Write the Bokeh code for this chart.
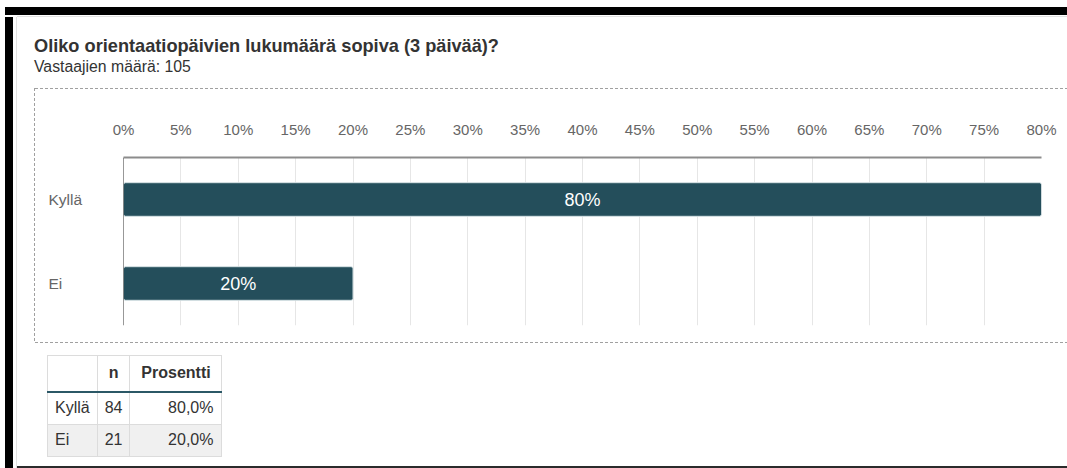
from bokeh.plotting import figure
from bokeh.models import (Div, Range1d, FactorRange, FixedTicker, ColumnDataSource,
                          Span)
from bokeh.layouts import row, column
from bokeh.embed import file_html
from bokeh.resources import INLINE
from bokeh.core.properties import value

# ---------------- data ----------------
title_text = "Oliko orientaatiopäivien lukumäärä sopiva (3 päivää)?"
subtitle_text = "Vastaajien määrä: 105"
categories = ["Kyllä", "Ei"]
percent = [80, 20]
counts = [84, 21]
tick_values = [0, 5, 10, 15, 20, 25, 30, 35, 40, 45, 50, 55, 60, 65, 70, 75, 80]
tick_labels = ["0%", "5%", "10%", "15%", "20%", "25%", "30%", "35%", "40%",
               "45%", "50%", "55%", "60%", "65%", "70%", "75%", "80%"]
table_header = ["", "n", "Prosentti"]

FONT = "Liberation Sans"
BAR = "#244e5b"

# ---------------- chart ----------------
src = ColumnDataSource(dict(
    cat=categories,
    pct=percent,
    mid=[v / 2 for v in percent],
    lbl=[f"{v}%" for v in percent],
))

y_range = FactorRange(factors=list(reversed(categories)))

# main plot
p = figure(width=956, height=253,
           x_range=Range1d(0, 80), y_range=y_range,
           x_axis_location="above",
           toolbar_location=None, output_backend="svg",
           min_border_left=12, min_border_right=26,
           min_border_top=68, min_border_bottom=17, margin=0)
p.outline_line_color = None
p.background_fill_color = "white"
p.border_fill_color = "white"

p.hbar(y="cat", left=0, right="pct", height=0.4, source=src,
       fill_color=BAR, line_color="#d5e1e4", line_width=1, border_radius=2)

p.text(x="mid", y="cat", text="lbl", source=src,
       text_color="white", text_font=value(FONT), text_font_size="18px",
       text_align="center", text_baseline="middle")

p.add_layout(Span(location=0, dimension="height", line_color="#333333",
                  line_width=1))

p.yaxis.visible = False
p.ygrid.grid_line_color = None
p.xgrid.grid_line_color = "#e6e6e6"
p.xgrid.grid_line_width = 1

xa = p.xaxis[0]
xa.ticker = FixedTicker(ticks=tick_values)
xa.major_label_overrides = dict(zip(tick_values, tick_labels))
xa.major_tick_line_color = None
xa.minor_tick_line_color = None
xa.axis_line_color = "#8c8c8c"
xa.axis_line_width = 2
xa.major_label_text_font = FONT
xa.major_label_text_font_size = "15px"
xa.major_label_text_color = "#666666"
xa.major_label_standoff = 14

# category label strip (shares the categorical y range, left-aligned labels)
lab = figure(width=76, height=253,
             x_range=Range1d(0, 76), y_range=y_range,
             x_axis_type=None, y_axis_type=None,
             toolbar_location=None, output_backend="svg",
             min_border_left=0, min_border_right=0,
             min_border_top=68, min_border_bottom=17, margin=0)
lab.outline_line_color = None
lab.grid.grid_line_color = None
lab.text(x=13, y="cat", text="cat", source=src,
         text_font=value(FONT), text_font_size="15.5px",
         text_color="#666666", text_align="left", text_baseline="middle")

# ---------------- frame pieces ----------------
def block(w, h, bg=None):
    st = {"background": bg} if bg else {}
    return Div(text="", width=w, height=h, margin=0, styles=st)

top_row = row(
    block(5, 17),
    block(12, 17, "linear-gradient(to bottom, #fff 0 7px, #000 7px 15px, #fff 15px 17px)"),
    block(1050, 17, "linear-gradient(to bottom, #fff 0 7px, #000 7px 15px, #fff 15px 16px, #e2e2e2 16px 17px)"),
    spacing=0)
left_band = block(17, 451, "linear-gradient(to right, #fff 0 5px, #000 5px 13px, #fff 13px 16px, #e2e2e2 16px 17px)")

title_html = (
    f'<div style="font-family:\'{FONT}\',Arial,sans-serif;color:#333;padding:19px 0 0 17px;">'
    f'<div style="font-weight:bold;font-size:18.2px;line-height:20px;white-space:nowrap;">{title_text}</div>'
    f'<div style="font-size:15.8px;line-height:20px;margin-top:1px;white-space:nowrap;">{subtitle_text}</div>'
    '</div>'
)
title_div = Div(text=title_html, width=1050, height=71, margin=0)

dash_h = "repeating-linear-gradient(to right, #a0a0a0 0 3px, transparent 3px 5px)"
dash_v = "repeating-linear-gradient(to bottom, #a0a0a0 0 3px, transparent 3px 5px)"
chart_block = row(
    block(17, 255),
    block(1, 255, dash_v),
    column(block(1032, 1, dash_h), row(lab, p, spacing=0), block(1032, 1, dash_h), spacing=0),
    spacing=0)

# ---------------- table ----------------
cell = "border:1px solid #dcdcdc;padding:0 7px;"
widths = ["49px", "31px", "92px"]
rows_html = ""
for i, (c, n, v) in enumerate(zip(categories, counts, percent)):
    bg = "#ffffff" if i % 2 == 0 else "#f0f0f0"
    h = 33 if i == 0 else 32
    pct_txt = f"{v:.1f}%".replace(".", ",")
    rows_html += (
        f'<tr style="height:{h}px;background:{bg};">'
        f'<td style="{cell}text-align:left;">{c}</td>'
        f'<td style="{cell}text-align:center;">{n}</td>'
        f'<td style="{cell}text-align:right;padding-right:8px;">{pct_txt}</td></tr>'
    )
head_cell = cell + "border-bottom:2px solid #2b5866;font-weight:bold;text-align:center;"
table_html = (
    f'<div style="padding:12px 0 0 30px;">'
    f'<table style="border-collapse:collapse;font-family:\'{FONT}\',Arial,sans-serif;'
    f'font-size:16px;color:#333;">'
    f'<tr style="height:36px;">'
    f'<th style="{head_cell}width:{widths[0]};">{table_header[0]}</th>'
    f'<th style="{head_cell}width:{widths[1]};">{table_header[1]}</th>'
    f'<th style="{head_cell}width:{widths[2]};">{table_header[2]}</th></tr>'
    f'{rows_html}</table></div>'
)
table_div = Div(text=table_html, width=1050, height=123, margin=0)

bottom_line = block(1050, 2, "#2b2b2b")

inner = column(title_div, chart_block, table_div, bottom_line, spacing=0)
layout = column(top_row, row(left_band, inner, spacing=0), spacing=0)

open("out.html", "w").write(file_html(layout, INLINE))
